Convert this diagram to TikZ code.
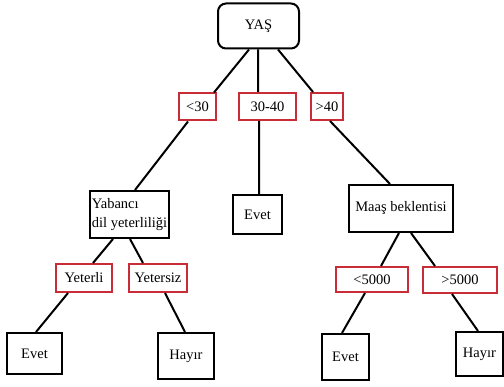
\documentclass[tikz,border=0pt]{standalone}
\usepackage{fontspec}
\setmainfont{Liberation Serif}
\definecolor{lblred}{RGB}{200,45,55}

\begin{document}
\begin{tikzpicture}[x=1pt,y=-1pt,line width=2pt,
  every node/.style={inner sep=1pt,font=\fontsize{14.5}{19}\selectfont},
  dec/.style={draw=black,minimum width=#1},
  lbl/.style={draw=lblred,minimum width=#1,minimum height=27pt}]
\useasboundingbox (0,0) rectangle (504,387);
% karar dugumleri
\node[dec=81pt,minimum height=45pt,rounded corners=8pt] (yas) at (258.5,26) {YA\c{S}\hspace{14pt}};
\node[dec=79pt,minimum height=47pt,align=left] (yab) at (129.5,214.5) {Yabanc\i\\dil yeterlili\u{g}i};
\node[dec=104pt,minimum height=47pt] (maas) at (401,208.5) {Maa\c{s} beklentisi};
% dal etiketleri
\node[lbl=37pt] (lt30) at (197.5,107) {<30};
\node[lbl=57pt] (r3040) at (267.5,106.5) {30-40};
\node[lbl=32pt] (gt40) at (327,106.5) {>40};
\node[lbl=56pt,minimum height=28pt] (yeterli) at (84,278) {Yeterli};
\node[lbl=58pt,minimum height=28pt] (yetersiz) at (158,278) {Yetersiz};
\node[lbl=72pt,minimum height=25pt] (lt5000) at (372,279.5) {<5000};
\node[lbl=74pt,minimum height=26pt] (gt5000) at (460,280) {>5000};
% yapraklar
\node[dec=49pt,minimum height=39pt] (evetm) at (257.5,214.5) {Evet\hspace{6pt}};
\node[dec=55pt,minimum height=41pt] (evetl) at (34.5,353.5) {Evet\hspace{6pt}};
\node[dec=56pt,minimum height=46pt] (hayirl) at (186,356) {Hay\i r};
\node[dec=47pt,minimum height=46pt] (evetr) at (345.5,357) {Evet};
\node[dec=47pt,minimum height=44pt] (hayirr) at (479.5,354) {Hay\i r};
% baglantilar
\draw([xshift=-9.5pt]yas.south)--([xshift=16.5pt]lt30.north)
  ([xshift=-0.5pt]yas.south)--([xshift=-9.5pt]r3040.north)
  ([xshift=19.5pt]yas.south)--([xshift=-14pt]gt40.north);
\draw([xshift=-9.5pt]lt30.south)--([xshift=5.5pt]yab.north)
  ([xshift=-8.5pt]r3040.south)--([xshift=1.5pt]evetm.north)
  ([xshift=3pt]gt40.south)--([xshift=-11pt]maas.north);
\draw([xshift=-16.5pt]yab.south)--([xshift=9pt]yeterli.north)
  ([xshift=0.5pt]yab.south)--([xshift=-15pt]yetersiz.north)
  ([xshift=-2pt]maas.south)--([xshift=9pt]lt5000.north)
  ([xshift=10pt]maas.south)--([xshift=-25pt]gt5000.north);
\draw([xshift=-16pt]yeterli.south)--([xshift=1.5pt]evetl.north)
  ([xshift=7pt]yetersiz.south)--([xshift=-1pt]hayirl.north)
  ([xshift=-7pt]lt5000.south)--([xshift=-3.5pt]evetr.north)
  ([xshift=-8pt]gt5000.south)--([xshift=-1.5pt]hayirr.north);
\end{tikzpicture}
\end{document}
